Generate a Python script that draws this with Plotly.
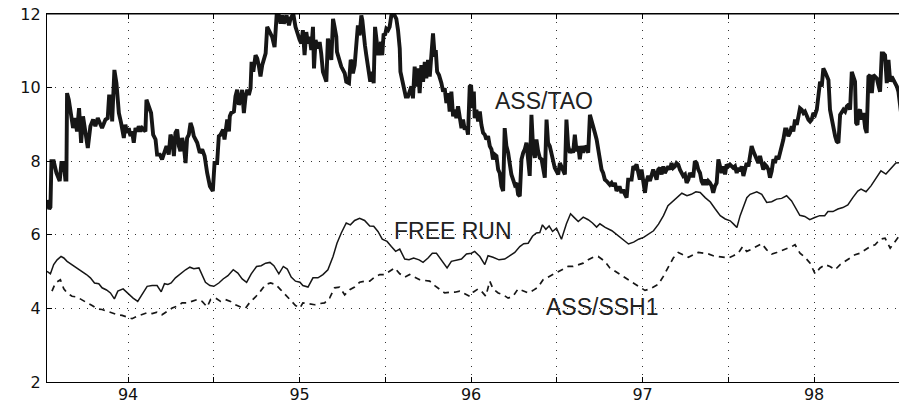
import plotly.graph_objects as go

# ---------------- data ----------------
tao_x = [93.528, 93.540, 93.547, 93.553, 93.566, 93.582, 93.601, 93.611, 93.625, 93.634, 93.640,
         93.644, 93.654, 93.667, 93.679, 93.691, 93.702, 93.714, 93.726, 93.737, 93.751, 93.765,
         93.780, 93.796, 93.809, 93.823, 93.835, 93.848, 93.868, 93.881, 93.889, 93.901, 93.907,
         93.920, 93.932, 93.946, 93.959, 93.975, 93.984, 93.994, 94.004, 94.014, 94.023, 94.033,
         94.043, 94.053, 94.062, 94.072, 94.082, 94.091, 94.101, 94.107, 94.121, 94.134, 94.146,
         94.160, 94.169, 94.185, 94.198, 94.212, 94.224, 94.237, 94.247, 94.257, 94.267, 94.276,
         94.286, 94.296, 94.305, 94.315, 94.325, 94.335, 94.344, 94.354, 94.364, 94.374, 94.383,
         94.403, 94.418, 94.432, 94.446, 94.461, 94.477, 94.494, 94.504, 94.519, 94.529, 94.539,
         94.554, 94.562, 94.578, 94.588, 94.593, 94.601, 94.617, 94.626, 94.636, 94.646, 94.656,
         94.665, 94.675, 94.685, 94.695, 94.704, 94.714, 94.720, 94.730, 94.743, 94.753, 94.763,
         94.772, 94.782, 94.792, 94.802, 94.811, 94.827, 94.840, 94.854, 94.866, 94.879, 94.889,
         94.899, 94.908, 94.924, 94.938, 94.947, 94.963, 94.976, 94.986, 95.000,
         95.010, 95.019, 95.029, 95.039, 95.049, 95.058, 95.068, 95.078, 95.084, 95.093, 95.107,
         95.117, 95.126, 95.136, 95.146, 95.156, 95.165, 95.175, 95.185, 95.195, 95.204, 95.214,
         95.218, 95.230, 95.243, 95.263, 95.272, 95.288, 95.298, 95.305, 95.311, 95.321, 95.331,
         95.340, 95.350, 95.360, 95.366, 95.374, 95.381, 95.389, 95.399, 95.412, 95.424, 95.432,
         95.440, 95.451, 95.459, 95.467, 95.475, 95.482, 95.490, 95.498, 95.506, 95.516, 95.525,
         95.535, 95.545, 95.554, 95.564, 95.574, 95.584, 95.588, 95.599, 95.607, 95.619, 95.632,
         95.642, 95.652, 95.661, 95.671, 95.681, 95.691, 95.700, 95.710, 95.720, 95.730, 95.739,
         95.749, 95.759, 95.768, 95.778, 95.788, 95.794, 95.802, 95.813, 95.827, 95.837, 95.846,
         95.856, 95.866, 95.875, 95.885, 95.895, 95.905, 95.914, 95.924, 95.934, 95.944, 95.953,
         95.963, 95.973, 95.982, 95.992, 96.000, 96.008, 96.016, 96.021, 96.031, 96.041, 96.051,
         96.060, 96.070, 96.080, 96.089, 96.099, 96.109, 96.119, 96.128, 96.138, 96.148, 96.158,
         96.167, 96.177, 96.187, 96.196, 96.206, 96.216, 96.226, 96.235, 96.245, 96.255, 96.265,
         96.274, 96.284, 96.294, 96.304, 96.313, 96.323, 96.333, 96.342, 96.352, 96.362, 96.372,
         96.381, 96.391, 96.401, 96.411, 96.420, 96.430, 96.440, 96.449, 96.459, 96.469, 96.479,
         96.488, 96.498, 96.508, 96.518, 96.527, 96.537, 96.547, 96.556, 96.566, 96.576, 96.586,
         96.595, 96.605, 96.615, 96.625, 96.634, 96.644, 96.654, 96.663, 96.673, 96.683, 96.693,
         96.702, 96.712, 96.722, 96.732, 96.741, 96.751,
         96.761, 96.770, 96.780, 96.790, 96.800, 96.809, 96.819, 96.829, 96.839, 96.848, 96.858,
         96.868, 96.877, 96.887, 96.897, 96.907, 96.916, 96.926, 96.936, 96.946, 96.955, 96.965,
         96.975, 96.984, 96.994, 97.004, 97.014, 97.023, 97.033, 97.043, 97.053, 97.062, 97.072,
         97.082, 97.091, 97.101, 97.111, 97.121, 97.130, 97.140, 97.150, 97.160, 97.169, 97.179,
         97.189, 97.198, 97.208, 97.218, 97.228, 97.237, 97.247, 97.257, 97.267, 97.276, 97.286,
         97.296, 97.305, 97.315, 97.325, 97.335, 97.344, 97.354, 97.364, 97.374, 97.383, 97.393,
         97.403, 97.412, 97.422, 97.432, 97.442, 97.451, 97.461, 97.471, 97.481, 97.490, 97.500,
         97.510, 97.519, 97.529, 97.539, 97.549, 97.558, 97.568, 97.578, 97.588, 97.597, 97.607,
         97.617, 97.626, 97.636, 97.646, 97.656, 97.665, 97.675, 97.685, 97.695, 97.704, 97.714,
         97.724, 97.734, 97.743, 97.753, 97.763, 97.772, 97.782, 97.792, 97.802, 97.811, 97.821,
         97.831, 97.840, 97.850, 97.860, 97.870, 97.879, 97.889, 97.899, 97.909, 97.918, 97.928,
         97.938, 97.947, 97.957, 97.967, 97.977, 97.986, 97.996, 98.006, 98.016, 98.025, 98.035,
         98.045, 98.054, 98.064, 98.074, 98.084, 98.093, 98.103, 98.113, 98.123, 98.132, 98.142,
         98.152, 98.161, 98.171, 98.181, 98.191, 98.200, 98.210, 98.220, 98.230, 98.239, 98.245,
         98.253, 98.259, 98.268, 98.278, 98.288, 98.298, 98.307, 98.317, 98.327, 98.337, 98.346,
         98.356, 98.366, 98.375, 98.385, 98.395, 98.405, 98.414, 98.424, 98.434, 98.444, 98.453,
         98.463, 98.473, 98.483, 98.492, 98.502, 98.512, 98.521, 98.531, 98.541]
tao_y = [6.95, 6.70, 6.75, 8.00, 8.00, 7.68, 7.46, 7.95, 7.95, 7.50, 7.50,
         9.85, 9.67, 9.22, 8.90, 9.17, 8.81, 9.44, 8.50, 9.22, 8.81, 8.36,
         8.95, 9.13, 8.95, 9.17, 9.04, 8.90, 9.13, 9.17, 9.76, 9.76, 9.08,
         10.48, 10.12, 9.31, 9.04, 8.63, 8.99, 8.77, 8.90, 8.68, 8.81, 8.50,
         8.90, 8.81, 8.95, 8.81, 8.90, 8.86, 8.81, 9.67, 9.49, 9.31, 8.72,
         8.59, 8.18, 8.18, 8.05, 8.27, 8.41, 8.18, 8.72, 8.59, 8.14, 8.77,
         8.86, 8.41, 8.27, 8.63, 8.41, 7.95, 8.63, 8.72, 9.04, 8.90, 8.68,
         8.50, 8.23, 8.32, 8.14, 7.68, 7.32, 7.19, 7.95, 7.95, 8.68, 8.72,
         8.86, 8.59, 9.13, 8.81, 9.22, 9.31, 9.35, 9.76, 9.94, 9.53, 9.67,
         9.94, 9.31, 9.76, 9.94, 9.80, 9.98, 10.70, 10.43, 10.88, 10.79, 10.57,
         10.30, 10.61, 10.75, 10.93, 11.65, 11.51, 11.38, 11.10, 11.96, 11.96, 11.74,
         11.96, 11.74, 11.96, 11.69, 11.87, 12.01, 11.65, 11.47, 11.30,
         11.20, 11.56, 10.88, 11.51, 11.20, 11.38, 11.02, 11.65, 10.52, 11.29, 11.06,
         11.24, 10.93, 10.43, 10.30, 10.16, 11.33, 11.11, 10.75, 11.87, 11.65, 11.38,
         10.97, 10.79, 10.57, 10.39, 10.16, 10.12, 10.75, 10.70, 10.39, 10.61, 11.24,
         11.69, 11.42, 11.96, 11.83, 11.29, 11.15, 10.88, 10.48, 10.16, 10.43, 10.12,
         11.65, 11.24, 10.88, 11.11, 11.24, 10.88, 11.47, 11.42, 11.60, 11.56, 11.65,
         11.96, 12.10, 11.96, 11.87, 11.56, 11.06, 10.43, 10.16, 9.98, 9.76, 9.76,
         9.89, 10.03, 9.71, 10.57, 10.03, 10.52, 9.85, 10.61, 10.16, 10.70, 10.25,
         10.75, 10.30, 10.88, 11.47, 10.84, 11.02, 10.43, 10.34, 10.12, 9.89, 9.98,
         9.58, 9.85, 9.35, 9.89, 9.22, 9.40, 9.17, 9.49, 9.22, 8.90, 9.13,
         8.86, 8.95, 8.72, 10.03, 10.07, 9.44, 9.89, 9.17, 9.40, 9.08, 9.35,
         8.99, 8.77, 8.72, 8.59, 8.68, 8.41, 8.32, 8.05, 8.18, 8.14, 7.77,
         7.68, 7.32, 7.19, 8.90, 8.41, 8.23, 7.86, 7.64, 7.50, 7.36, 7.41,
         7.10, 7.05, 8.05, 8.23, 8.32, 8.50, 7.95, 7.60, 9.26, 8.32, 8.09,
         8.59, 8.27, 8.09, 8.05, 7.86, 7.55, 9.13, 8.50, 8.41, 8.23, 7.95,
         7.82, 7.73, 7.64, 7.95, 7.86, 7.73, 7.64, 9.13, 8.41, 8.23, 8.32,
         8.23, 8.72, 8.27, 8.41, 8.05, 8.41, 8.23, 8.41, 8.36, 8.23, 9.26,
         9.13, 8.95, 8.77, 8.59, 8.30, 8.14,
         7.77, 7.68, 7.50, 7.46, 7.41, 7.36, 7.41, 7.32, 7.41, 7.19, 7.28,
         7.28, 7.14, 7.23, 7.10, 7.01, 7.50, 7.50, 7.50, 7.86, 7.82, 7.91,
         7.68, 7.50, 7.77, 7.46, 7.14, 7.46, 7.60, 7.46, 7.68, 7.77, 7.64,
         7.50, 7.77, 7.82, 7.64, 7.86, 7.68, 7.77, 7.86, 7.77, 7.95, 7.82,
         7.86, 7.95, 7.91, 7.77, 7.68, 7.60, 7.64, 7.41, 7.50, 7.68, 7.60,
         7.60, 8.00, 7.95, 7.77, 7.68, 7.46, 7.36, 7.50, 7.36, 7.46, 7.41,
         7.32, 7.14, 7.32, 7.41, 8.05, 7.86, 7.68, 7.86, 7.64, 7.91, 7.86,
         7.91, 7.86, 7.82, 7.86, 7.68, 7.82, 7.73, 7.86, 7.60, 7.77, 7.95,
         7.86, 8.23, 8.41, 8.27, 8.14, 8.09, 7.95, 8.14, 7.95, 7.77, 7.91,
         7.86, 7.77, 7.55, 7.73, 8.05, 7.95, 8.14, 8.05, 8.23, 8.32, 8.59,
         8.86, 8.86, 8.68, 8.77, 8.95, 8.81, 9.13, 8.99, 9.22, 9.44, 9.40,
         9.31, 9.35, 9.22, 9.13, 9.08, 9.13, 9.31, 9.26, 9.40, 9.85, 10.16,
         10.03, 10.52, 10.43, 10.34, 10.21, 9.40, 9.13, 8.86, 8.68, 8.54, 8.50,
         9.26, 9.31, 9.40, 9.35, 9.49, 9.53, 9.40, 10.43, 10.30, 10.16, 9.04,
         8.99, 9.35, 9.40, 9.13, 9.31, 8.90, 8.77, 10.30, 10.34, 9.85, 10.34,
         10.30, 10.25, 10.07, 9.89, 10.93, 10.93, 10.88, 10.12, 10.75, 10.16, 10.30,
         10.21, 10.16, 10.03, 9.89, 9.40, 9.13, 9.08, 9.04, 10.20]

free_x = [93.527, 93.547, 93.566, 93.586, 93.609, 93.625, 93.644, 93.673, 93.702, 93.732, 93.757,
          93.780, 93.804, 93.829, 93.848, 93.874, 93.897, 93.920, 93.940, 93.971, 93.998, 94.029,
          94.056, 94.082, 94.111, 94.140, 94.169, 94.193, 94.212, 94.232, 94.251, 94.276, 94.305,
          94.335, 94.360, 94.383, 94.413, 94.432, 94.451, 94.477, 94.500, 94.529, 94.554, 94.582,
          94.613, 94.640, 94.665, 94.691, 94.718, 94.749, 94.776, 94.802, 94.827, 94.850, 94.879,
          94.905, 94.928, 94.951, 94.976, 95.002, 95.019, 95.049, 95.078, 95.107, 95.136, 95.165,
          95.195, 95.218, 95.243, 95.272, 95.296, 95.321, 95.350, 95.379, 95.409, 95.432, 95.457,
          95.482, 95.510, 95.535, 95.560, 95.584, 95.613, 95.638, 95.665, 95.697, 95.720, 95.749,
          95.774, 95.798, 95.821, 95.840, 95.860, 95.885, 95.914, 95.944, 95.973, 96.002, 96.021,
          96.051, 96.080, 96.099, 96.128, 96.163, 96.196, 96.226, 96.255, 96.284, 96.307, 96.333,
          96.358, 96.381, 96.401, 96.416, 96.436, 96.455, 96.475, 96.498, 96.527, 96.556, 96.580,
          96.599, 96.625, 96.654, 96.683, 96.708, 96.732, 96.751, 96.782, 96.821, 96.860, 96.889,
          96.918, 96.948, 96.977, 97.006, 97.035, 97.064, 97.093, 97.122, 97.148, 97.171, 97.200,
          97.229, 97.259, 97.284, 97.311, 97.336, 97.365, 97.395, 97.424, 97.453, 97.482, 97.511,
          97.531, 97.550, 97.569, 97.589, 97.608, 97.627, 97.666, 97.695, 97.724, 97.753, 97.782,
          97.811, 97.840, 97.869, 97.898, 97.917, 97.946, 97.975, 98.004, 98.033, 98.062, 98.081,
          98.110, 98.139, 98.168, 98.197, 98.226, 98.255, 98.274, 98.303, 98.332, 98.361, 98.390,
          98.419, 98.448, 98.477, 98.506, 98.525, 98.541]
free_y = [5.01, 4.94, 5.19, 5.32, 5.41, 5.37, 5.28, 5.19, 5.10, 5.01, 4.92,
          4.83, 4.69, 4.67, 4.56, 4.50, 4.42, 4.26, 4.47, 4.53, 4.40, 4.28,
          4.19, 4.37, 4.60, 4.62, 4.62, 4.45, 4.67, 4.65, 4.69, 4.83, 4.94,
          5.05, 5.12, 5.08, 5.10, 4.92, 4.71, 4.62, 4.60, 4.69, 4.80, 4.89,
          5.05, 4.96, 4.80, 4.71, 4.94, 5.14, 5.16, 5.23, 5.25, 5.16, 4.94,
          5.14, 5.07, 4.85, 4.74, 4.71, 4.62, 4.58, 4.83, 4.83, 4.92, 5.05,
          5.41, 5.77, 6.05, 6.32, 6.27, 6.39, 6.45, 6.39, 6.24, 6.23, 6.09,
          5.88, 5.82, 5.68, 5.55, 5.61, 5.34, 5.32, 5.37, 5.32, 5.25, 5.37,
          5.50, 5.50, 5.34, 5.23, 5.10, 5.28, 5.30, 5.34, 5.48, 5.50, 5.55,
          5.41, 5.19, 5.43, 5.39, 5.32, 5.34, 5.43, 5.52, 5.68, 5.76, 5.77,
          5.96, 6.05, 6.06, 6.27, 6.15, 6.24, 6.09, 6.18, 5.88, 6.30, 6.57,
          6.48, 6.36, 6.48, 6.41, 6.32, 6.21, 6.30, 6.20, 6.11, 5.97, 5.88,
          5.75, 5.80, 5.88, 5.93, 6.02, 6.11, 6.29, 6.52, 6.79, 6.88, 7.01,
          7.13, 7.06, 7.10, 7.17, 7.15, 7.01, 6.89, 6.70, 6.52, 6.43, 6.38,
          6.29, 6.20, 6.52, 6.79, 7.01, 7.10, 7.17, 7.10, 6.88, 6.90, 6.97,
          6.99, 7.06, 6.92, 6.70, 6.53, 6.50, 6.41, 6.47, 6.52, 6.52, 6.63,
          6.63, 6.70, 6.74, 6.81, 7.01, 7.19, 7.24, 7.17, 7.33, 7.55, 7.74,
          7.65, 7.81, 7.95, 7.96, 7.95, 7.91]

ssh_x = [93.556, 93.576, 93.605, 93.625, 93.644, 93.673, 93.702, 93.732, 93.761, 93.790, 93.819,
         93.848, 93.878, 93.907, 93.936, 93.965, 93.994, 94.023, 94.053, 94.082, 94.111, 94.140,
         94.169, 94.198, 94.228, 94.257, 94.286, 94.315, 94.344, 94.374, 94.403, 94.432, 94.461,
         94.481, 94.510, 94.539, 94.568, 94.597, 94.626, 94.656, 94.685, 94.714, 94.743, 94.772,
         94.802, 94.831, 94.860, 94.889, 94.918, 94.947, 94.976, 95.002, 95.019, 95.049, 95.088,
         95.117, 95.146, 95.175, 95.204, 95.233, 95.263, 95.292, 95.321, 95.350, 95.379, 95.409,
         95.438, 95.467, 95.496, 95.525, 95.554, 95.584, 95.613, 95.642, 95.671, 95.700, 95.730,
         95.759, 95.788, 95.817, 95.846, 95.875, 95.905, 95.934, 95.963, 95.992, 96.012, 96.041,
         96.060, 96.086, 96.109, 96.128, 96.158, 96.187, 96.216, 96.245, 96.274, 96.304, 96.333,
         96.362, 96.391, 96.420, 96.449, 96.479, 96.508, 96.537, 96.566, 96.595, 96.625, 96.654,
         96.683, 96.712, 96.741, 96.780, 96.809, 96.839, 96.868, 96.897, 96.926, 96.955, 96.984,
         97.014, 97.043, 97.066, 97.091, 97.121, 97.150, 97.179, 97.208, 97.237, 97.267, 97.296,
         97.325, 97.354, 97.383, 97.412, 97.442, 97.471, 97.500, 97.529, 97.558, 97.584, 97.607,
         97.636, 97.665, 97.695, 97.724, 97.753, 97.782, 97.811, 97.840, 97.870, 97.889, 97.918,
         97.947, 97.977, 98.006, 98.035, 98.064, 98.093, 98.123, 98.152, 98.181, 98.210, 98.239,
         98.268, 98.298, 98.327, 98.356, 98.385, 98.414, 98.444, 98.473, 98.502, 98.525, 98.541]
ssh_y = [4.47, 4.69, 4.78, 4.53, 4.42, 4.33, 4.31, 4.24, 4.15, 4.08, 3.99,
         3.97, 3.92, 3.88, 3.83, 3.81, 3.77, 3.72, 3.79, 3.83, 3.88, 3.86,
         3.90, 3.83, 3.92, 4.01, 4.06, 4.15, 4.15, 4.19, 4.24, 4.19, 4.04,
         4.24, 4.28, 4.19, 4.24, 4.19, 4.10, 4.04, 4.01, 4.19, 4.31, 4.47,
         4.65, 4.69, 4.65, 4.51, 4.37, 4.24, 4.08, 4.01, 4.15, 4.13, 4.10,
         4.13, 4.15, 4.28, 4.56, 4.58, 4.37, 4.51, 4.58, 4.71, 4.74, 4.74,
         4.85, 4.92, 4.92, 5.01, 5.10, 4.94, 4.85, 4.92, 4.85, 4.78, 4.76,
         4.74, 4.62, 4.53, 4.42, 4.44, 4.44, 4.47, 4.40, 4.33, 4.44, 4.53,
         4.47, 4.33, 4.74, 4.53, 4.42, 4.37, 4.28, 4.33, 4.53, 4.47, 4.42,
         4.49, 4.58, 4.78, 4.85, 4.94, 5.01, 5.07, 5.14, 5.14, 5.19, 5.23,
         5.32, 5.39, 5.41, 5.28, 5.10, 5.01, 4.92, 4.83, 4.74, 4.65, 4.58,
         4.49, 4.53, 4.58, 4.65, 4.87, 5.14, 5.37, 5.52, 5.46, 5.39, 5.46,
         5.52, 5.50, 5.48, 5.43, 5.41, 5.39, 5.37, 5.43, 5.50, 5.68, 5.55,
         5.61, 5.68, 5.76, 5.59, 5.48, 5.52, 5.57, 5.61, 5.68, 5.73, 5.50,
         5.39, 5.23, 4.94, 5.10, 5.19, 5.14, 5.05, 5.19, 5.28, 5.37, 5.46,
         5.50, 5.59, 5.68, 5.73, 5.88, 5.91, 5.64, 5.82, 6.00, 6.36, 6.39]

x_tick_vals = [94, 94.5, 95, 95.5, 96, 96.5, 97, 97.5, 98, 98.5]
x_tick_text = ["94", "", "95", "", "96", "", "97", "", "98", ""]
y_tick_vals = [2, 4, 6, 8, 10, 12]
y_tick_text = ["2", "4", "6", "8", "10", "12"]

labels = ["ASS/TAO", "FREE RUN", "ASS/SSH1"]
label_x = [96.424, 95.897, 96.764]
label_y = [9.64, 6.10, 4.05]

# ---------------- figure ----------------
ink = "#161616"
fig = go.Figure()
fig.add_trace(go.Scatter(x=free_x, y=free_y, mode="lines",
                         line=dict(color=ink, width=1.5), showlegend=False))
fig.add_trace(go.Scatter(x=ssh_x, y=ssh_y, mode="lines",
                         line=dict(color=ink, width=1.7, dash="6px,5px"), showlegend=False))
fig.add_trace(go.Scatter(x=tao_x, y=tao_y, mode="lines",
                         line=dict(color=ink, width=3.9), showlegend=False))

for t, lx, ly in zip(labels, label_x, label_y):
    fig.add_annotation(x=lx, y=ly, text=t, showarrow=False,
                       font=dict(family="Liberation Sans", size=23, color="#222"))

# top border of the axes box
fig.add_shape(type="line", xref="paper", yref="paper", x0=0, x1=1, y0=1, y1=1,
              line=dict(color="black", width=1.2), layer="above")

grid = dict(showgrid=True, gridcolor="#333", gridwidth=1, griddash="1px,7px",
            zeroline=False, ticks="inside", ticklen=5, tickcolor="black",
            showline=True, linecolor="black", linewidth=1.2,
            ticklabeloverflow="allow",
            tickfont=dict(family="DejaVu Sans", size=16, color="#111"))

# The page body adds an 8px offset, so the figure is sized to end at the window edge.
fig.update_layout(
    width=899, height=394,
    margin=dict(l=39, r=0, t=6, b=20),
    paper_bgcolor="white", plot_bgcolor="white",
    xaxis=dict(range=[93.527, 98.542], tickvals=x_tick_vals, ticktext=x_tick_text,
               mirror="ticks", automargin=False, ticklabelstandoff=-2, **grid),
    yaxis=dict(range=[2, 12], tickvals=y_tick_vals, ticktext=y_tick_text,
               mirror=False, automargin=False, ticklabelstandoff=2, **grid),
)

fig.write_html("out.html")
